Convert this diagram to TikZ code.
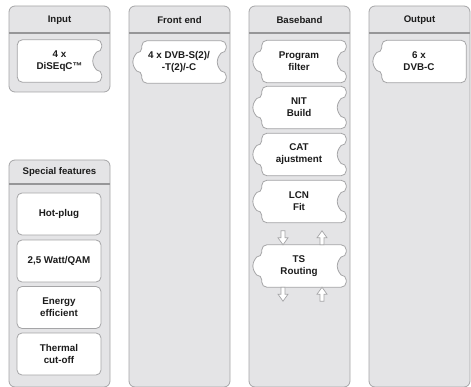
\documentclass[tikz,border=0pt]{standalone}
\usepackage{fontspec}
\setmainfont{Liberation Sans}
\definecolor{panelgray}{RGB}{228,228,230}
\definecolor{edgegray}{RGB}{165,165,167}
\definecolor{rulegray}{RGB}{150,150,152}
\definecolor{inkgray}{RGB}{28,28,28}
\pgfdeclarelayer{panels}
\pgfdeclarelayer{pieces}
\pgfsetlayers{panels,pieces,main}

\tikzset{
  panel/.style={fill=panelgray,draw=edgegray,line width=0.8pt,rounded corners=6pt},
  hdrrule/.style={draw=rulegray,line width=1.4pt},
  hdr/.style={font=\bfseries\fontsize{9.6}{11}\selectfont,text=inkgray},
  piecetext/.style={font=\bfseries\fontsize{9.8}{12}\selectfont,text=inkgray,align=center,
    minimum width=84pt,minimum height=42pt,inner sep=0pt},
  piece/.style={fill=white,draw=edgegray,line width=0.8pt,rounded corners=5pt},
  featbox/.style={piecetext,piece},
  blockarrow/.style={fill=white,draw=edgegray,line width=0.7pt,line join=miter}
}

% outlines of the puzzle pieces, drawn under the text
% (pieces with a bump: text sits 5pt left of the body centre)
\newcommand{\pieceboth}[1]{%
  \begin{pgfonlayer}{pieces}
  \draw[piece] ([xshift=5pt]#1.north west) -- ([xshift=5pt]#1.north east)
    -- ([xshift=5pt,yshift=9pt]#1.east)
    arc[start angle=90,end angle=270,radius=9pt] -- ([xshift=5pt]#1.south east)
    -- ([xshift=5pt]#1.south west) -- ([xshift=5pt,yshift=-9pt]#1.west)
    arc[start angle=270,end angle=90,radius=9pt] -- cycle;
  \end{pgfonlayer}}
\newcommand{\piecenotch}[1]{%
  \begin{pgfonlayer}{pieces}
  \draw[piece] (#1.north west) -- (#1.north east) -- ([yshift=9pt]#1.east)
    arc[start angle=90,end angle=270,radius=9pt] -- (#1.south east)
    -- (#1.south west) -- cycle;
  \end{pgfonlayer}}
\newcommand{\piecebump}[1]{%
  \begin{pgfonlayer}{pieces}
  \draw[piece] ([xshift=5pt]#1.north west) -- ([xshift=5pt]#1.north east)
    -- ([xshift=5pt]#1.south east)
    -- ([xshift=5pt]#1.south west) -- ([xshift=5pt,yshift=-9pt]#1.west)
    arc[start angle=270,end angle=90,radius=9pt] -- cycle;
  \end{pgfonlayer}}
% open block arrows, tip at #1
\newcommand{\blockdown}[1]{%
  \draw[blockarrow] (#1) -- ++(-5,7) -- ++(3,0) -- ++(0,7) -- ++(4,0) -- ++(0,-7) -- ++(3,0) -- cycle;}
\newcommand{\blockup}[1]{%
  \draw[blockarrow] (#1) -- ++(-5,-7) -- ++(3,0) -- ++(0,-7) -- ++(4,0) -- ++(0,7) -- ++(3,0) -- cycle;}

\begin{document}
\begin{tikzpicture}[x=1pt,y=1pt]
\useasboundingbox (0,0) rectangle (471,386);

% panels
\begin{pgfonlayer}{panels}
\draw[panel] (9,294) rectangle (110,380);
\draw[panel] (9,-1) rectangle (110,226);
\draw[panel] (129,-1) rectangle (230,380);
\draw[panel] (249,-1) rectangle (350,380);
\draw[panel] (369,-1) rectangle (470,380);
\foreach \x in {9,129,249,369} {
  \draw[hdrrule] (\x+0.4,353) -- (\x+100.6,353);
}
\draw[hdrrule] (9.4,202) -- (109.6,202);
\end{pgfonlayer}

% headers
\node[hdr] (inhdr) at (59.5,366) {Input};
\node[hdr] (fehdr) at (179.5,366) {Front end};
\node[hdr] (bbhdr) at (299.5,366) {Baseband};
\node[hdr] (outhdr) at (419.5,366) {Output};
\node[hdr] (sfhdr) at (59.5,214) {Special features};

% input, front end, output
\node[piecetext] (diseqc) at (59.5,325) {4 x\\DiSEqC™};
\piecenotch{diseqc}
\node[piecetext] (tuner) at (179,324) {4 x DVB-S(2)/\\-T(2)/-C};
\pieceboth{tuner}
\node[piecetext] (dvbc) at (419,324.5) {6 x\\DVB-C};
\piecebump{dvbc}

% baseband
\node[piecetext] (prog) at (299,324.5) {Program\\filter};
\pieceboth{prog}
\node[piecetext] (nit) at (299,278.5) {NIT\\Build};
\pieceboth{nit}
\node[piecetext] (cat) at (299,231.5) {CAT\\ajustment};
\pieceboth{cat}
\node[piecetext] (lcn) at (299,184.5) {LCN\\Fit};
\pieceboth{lcn}
\node[piecetext] (ts) at (299,120) {TS\\Routing};
\pieceboth{ts}

\coordinate (tsin) at ([xshift=-16pt]ts.north);
\coordinate (tsup) at ([xshift=23pt,yshift=14pt]ts.north);
\coordinate (tsdown) at ([xshift=-16pt,yshift=-14pt]ts.south);
\coordinate (tsret) at ([xshift=23pt]ts.south);
\blockdown{tsin}
\blockup{tsup}
\blockdown{tsdown}
\blockup{tsret}

% special features
\node[featbox] (hotplug) at (59,172) {Hot-plug};
\node[featbox] (watt) at (59,125) {2,5 Watt/QAM};
\node[featbox] (energy) at (59,78.5) {Energy\\efficient};
\node[featbox] (thermal) at (59,32) {Thermal\\cut-off};
\end{tikzpicture}
\end{document}
